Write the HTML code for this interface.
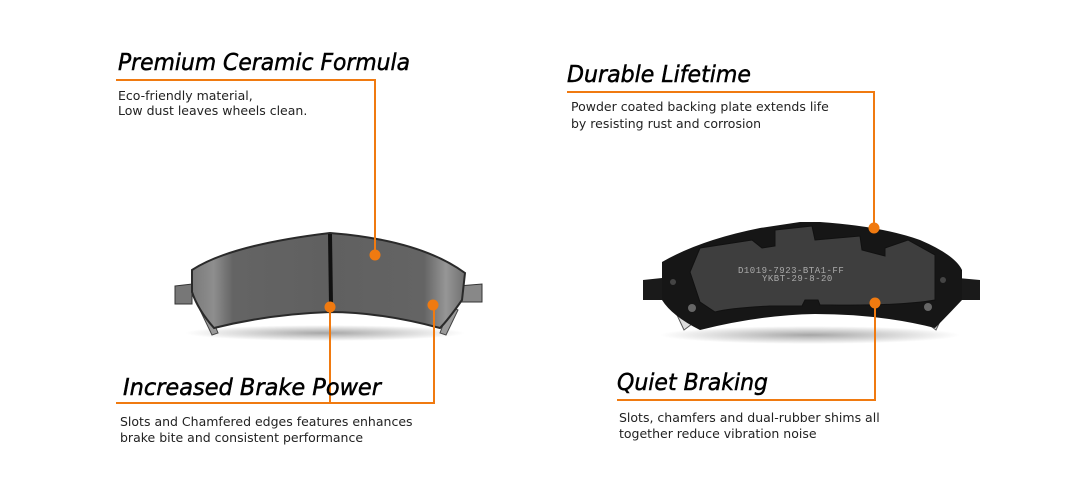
<!DOCTYPE html>
<html><head><meta charset="utf-8"><style>
html,body{margin:0;padding:0;background:#fff;}
svg{display:block}
.h{font-family:"DejaVu Sans","Liberation Sans",sans-serif;font-style:italic;font-size:23px;fill:#000;stroke:#000;stroke-width:0.5}
.b{font-family:"DejaVu Sans","Liberation Sans",sans-serif;font-size:12.5px;fill:#222}
</style></head><body>
<svg width="1080" height="500" viewBox="0 0 1080 500" xmlns="http://www.w3.org/2000/svg">
<defs>
<linearGradient id="lg" x1="0" x2="1" y1="0" y2="0">
<stop offset="0" stop-color="#7a7a7a"/><stop offset="0.08" stop-color="#8e8e8e"/><stop offset="0.15" stop-color="#646464"/><stop offset="0.5" stop-color="#606060"/><stop offset="0.85" stop-color="#646464"/><stop offset="0.93" stop-color="#969696"/><stop offset="1" stop-color="#707070"/>
</linearGradient>
<radialGradient id="sh" cx="0.5" cy="0.5" r="0.5"><stop offset="0" stop-color="#000" stop-opacity="0.35"/><stop offset="1" stop-color="#000" stop-opacity="0"/></radialGradient>
</defs>

<!-- left pad -->
<ellipse cx="325" cy="333" rx="140" ry="8" fill="url(#sh)"/>
<path d="M175 286 L192 284 L192 304 L175 304 Z" fill="#777" stroke="#333"/>
<path d="M458 286 L482 284 L482 302 L458 302 Z" fill="#888" stroke="#333"/>
<path d="M200 310 L212 335 L218 333 L208 308 Z" fill="#999" stroke="#444"/>
<path d="M450 306 L440 333 L446 335 L458 310 Z" fill="#999" stroke="#444"/>
<path d="M192 270 Q230 245 330 233 Q420 240 465 273 L462 300 Q448 320 440 328 Q380 312 330 312 Q270 314 214 328 Q198 310 192 292 Z" fill="url(#lg)" stroke="#2a2a2a" stroke-width="2"/>
<path d="M328 234 L332 234 L333 305 L329 305 Z" fill="#111"/>

<!-- right pad -->
<ellipse cx="810" cy="335" rx="150" ry="9" fill="url(#sh)"/>
<path d="M643 280 L662 278 L665 300 L643 300 Z" fill="#1a1a1a"/>
<path d="M958 278 L980 280 L980 300 L958 300 Z" fill="#1a1a1a"/>
<path d="M670 300 L690 292 L700 318 L684 330 Z" fill="#ddd" stroke="#555"/>
<path d="M950 300 L930 292 L920 318 L936 330 Z" fill="#ddd" stroke="#555"/>
<path d="M662 262 Q700 240 760 228 L800 222 L820 222 Q880 226 920 240 Q955 255 962 270 L962 300 Q945 318 935 328 Q880 314 815 314 Q760 315 700 330 Q672 316 662 300 Z" fill="#161616"/>
<path d="M700 248 L752 240 L762 248 L775 246 L775 230 L812 226 L815 240 L860 236 L862 250 L885 256 L885 248 L908 240 L935 255 L935 300 Q900 306 830 305 L820 305 L818 300 L805 300 L802 306 L770 306 Q730 308 715 312 L700 302 L690 272 Z" fill="#3e3e3e" stroke="#111"/>
<circle cx="673" cy="282" r="3" fill="#444"/><circle cx="943" cy="280" r="3" fill="#444"/>
<circle cx="692" cy="308" r="4" fill="#666"/><circle cx="928" cy="307" r="4" fill="#666"/>
<text x="738" y="273" font-family="Liberation Mono,monospace" font-size="9" fill="#aaa" letter-spacing="0.5">D1019-7923-BTA1-FF</text>
<text x="762" y="281" font-family="Liberation Mono,monospace" font-size="9" fill="#aaa" letter-spacing="0.5">YKBT-29-8-20</text>

<!-- connectors -->
<g stroke="#f07a10" stroke-width="2" fill="none">
<path d="M116 80 H375 V255"/>
<path d="M567 92 H874 V228"/>
<path d="M116 403 H434 V305 M330 307 V403"/>
<path d="M617 400 H875 V303"/>
</g>
<g fill="#f07a10">
<circle cx="375" cy="255" r="5.5"/><circle cx="874" cy="228" r="5.5"/>
<circle cx="330" cy="307" r="5.5"/><circle cx="433" cy="305" r="5.5"/>
<circle cx="875" cy="303" r="5.5"/>
</g>

<!-- text -->
<text class="h" x="118" y="70" textLength="292" lengthAdjust="spacingAndGlyphs">Premium Ceramic Formula</text>
<text class="b" x="118" y="100">Eco-friendly material,</text>
<text class="b" x="118" y="115">Low dust leaves wheels clean.</text>

<text class="h" x="567" y="82" textLength="184" lengthAdjust="spacingAndGlyphs">Durable Lifetime</text>
<text class="b" x="571" y="111">Powder coated backing plate extends life</text>
<text class="b" x="571" y="128">by resisting rust and corrosion</text>

<text class="h" x="123" y="395" textLength="258" lengthAdjust="spacingAndGlyphs">Increased Brake Power</text>
<text class="b" x="120" y="426">Slots and Chamfered edges features enhances</text>
<text class="b" x="120" y="442">brake bite and consistent performance</text>

<text class="h" x="617" y="390" textLength="151" lengthAdjust="spacingAndGlyphs">Quiet Braking</text>
<text class="b" x="619" y="422">Slots, chamfers and dual-rubber shims all</text>
<text class="b" x="619" y="438">together reduce vibration noise</text>
</svg>
</body></html>
